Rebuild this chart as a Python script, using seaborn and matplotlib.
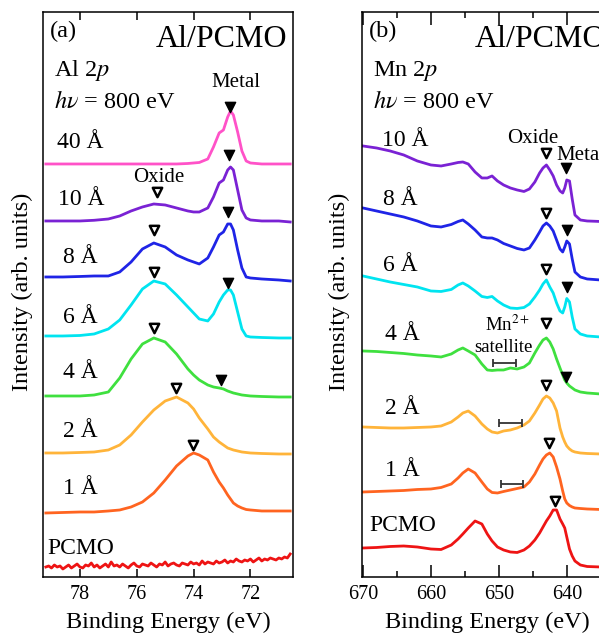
import numpy as np
import pandas as pd
import seaborn as sns
import matplotlib.pyplot as plt

# ---- panel (a): Al 2p, stacked spectra (intensity offsets already included)
al_energy = [79.2, 78.6, 78.0, 77.5, 77.0, 76.6, 76.2, 75.8, 75.4, 75.0, 74.6, 74.2,
             74.0, 73.8, 73.5, 73.3, 73.1, 72.95, 72.8, 72.7, 72.6, 72.45, 72.3,
             72.15, 72.0, 71.6, 71.0, 70.6]
al_40 = [413, 413, 413, 413, 413, 413, 413, 413, 413, 413, 413, 413.5, 414, 414.5,
         418, 430, 444, 447, 460, 466, 462, 445, 426, 416, 414, 413, 413, 413]
al_10 = [356, 356, 356, 356.7, 358, 361, 366, 370, 373, 372, 369, 366, 365, 365,
         369, 380, 394, 397, 407, 410, 407, 387, 367, 359, 357, 356, 356, 355]
al_8 = [300, 300, 300.5, 301, 301, 305, 315, 328, 334, 330, 322, 317, 315, 313,
        319, 330, 342, 345, 353, 353, 347, 327, 309, 300, 299, 298, 297, 296]
al_6 = [241, 241, 241.5, 243, 248, 257, 272, 288, 296, 293, 282, 270, 264, 258,
        256, 263, 275, 282, 287, 287, 282, 265, 248, 241, 240, 239.5, 239, 239]
al_4 = [181, 181, 181, 182, 185, 199, 218, 233, 239, 235, 223, 208, 202, 197,
        192, 190, 189, 188, 186, 185, 184, 183, 182, 181.5, 181, 180.5, 180, 180]
al_2 = [124, 124, 124.5, 125, 127, 132, 142, 155, 167, 176, 180, 174, 168, 159,
        148, 140, 135, 132, 129, 128, 127, 126, 125, 124.5, 124, 123.5, 123, 123]
al_1 = [64, 64.5, 65, 65, 66, 67, 70, 75, 84, 97, 111, 121, 124, 122,
        117, 105, 95, 89, 82, 78, 74, 71, 69, 67.5, 67, 66, 66, 66]
# bare PCMO has no Al signal: just the noisy background, read point by point
al_pcmo = [10, 11, 9, 12, 10, 11, 8, 10, 12, 9,
           11, 13, 10, 9, 12, 11, 14, 10, 12, 9,
           11, 13, 10, 15, 11, 12, 10, 13, 11, 9,
           12, 14, 11, 10, 13, 12, 11, 14, 12, 10,
           13, 12, 15, 11, 13, 14, 12, 11, 14, 13,
           12, 15, 13, 14, 12, 16, 13, 15, 14, 13,
           16, 14, 15, 17, 14, 16, 15, 18, 16, 15,
           17, 16, 18, 15, 17, 19, 16, 18, 17, 19,
           18, 17, 19, 18, 20, 19, 23]
al_pcmo_energy = np.linspace(79.2, 70.6, len(al_pcmo))

al_metal_e = [72.72, 72.75, 72.8, 72.8, 73.03]
al_metal_h = [470, 422, 365, 294, 197]
al_oxide_e = [75.3, 75.4, 75.4, 75.4, 74.62, 74.03]
al_oxide_h = [385, 347, 305, 249, 189, 132]

# ---- panel (b): Mn 2p
mn_energy = [670, 668, 666, 664, 662, 660, 658.5, 657, 656, 655.3, 654.5, 653.5,
             652.5, 651.7, 651, 650.2, 649.3, 648.3, 647.3, 646.3, 645.5, 644.7,
             644, 643.5, 643, 642.5, 642, 641.5, 641, 640.6, 640.3, 640, 639.6,
             639.2, 638.8, 638, 637, 635, 632, 629.5]
mn_10 = [431, 429, 426, 422, 416, 412, 411, 413, 414.5, 415, 413, 405, 399, 399,
         401, 396, 392, 389, 387, 385.5, 388, 395, 404, 409, 412, 407, 401, 392,
         386, 384, 389, 397, 396, 378, 362, 357, 356, 355.5, 355.5, 355.5]
mn_8 = [369, 366, 363, 360, 356, 351, 350, 352.5, 355.5, 357, 353, 347, 340, 339,
        339, 337, 333.5, 331, 328.5, 327, 329, 337, 345, 351, 354, 351, 346, 337,
        328, 325, 330, 336, 333, 318, 305, 300, 298, 297, 297, 297]
mn_6 = [301, 298, 295, 292.5, 290, 286, 285.5, 287.5, 292, 294, 291, 286, 280.5,
        279.5, 280.5, 276, 272, 269, 268.5, 269.5, 273, 280, 287, 293, 297, 290,
        284, 274, 266, 264, 270, 278.5, 275, 260, 248, 243, 241, 240, 240, 240]
mn_4 = [226, 225.5, 224.5, 223.5, 222, 221, 220, 223, 227, 229, 226, 222, 213, 207,
        206.5, 207, 207, 209, 208, 210, 214, 224, 232, 237, 239, 235, 228, 218,
        209, 202, 197, 194, 191, 189, 187, 185, 184, 183, 182, 182]
mn_2 = [150, 149.5, 149, 149, 149.5, 150, 151, 155, 160, 164, 166, 161, 153, 148,
        145, 144, 146, 147, 149, 152, 156, 164, 172, 178, 181, 179, 174, 166,
        149, 140, 135, 131, 128, 126, 125, 124, 123.5, 123, 123, 123]
mn_1 = [85, 85.5, 86, 86.5, 87.5, 88, 89.5, 93, 99, 104, 108, 104, 95, 88,
        84.5, 84, 85.5, 87, 88.5, 90, 95, 103, 112, 118, 122, 124, 120, 110,
        98, 86, 78, 74, 71.5, 70, 69, 68.5, 68, 67.5, 67, 67]
mn_pcmo = [29, 29.5, 30.5, 31, 30, 28, 27.5, 32, 38, 43, 49, 56, 53, 43,
           36, 30, 27, 25, 24.5, 27, 31, 37, 44, 50, 56, 61, 67, 67,
           58, 53, 49, 40, 28, 21, 16, 12, 10.5, 10, 9.5, 9.5]

mn_oxide_e = [643.1, 643.1, 643.1, 643.1, 643.0, 642.6, 641.8]
mn_oxide_h = [424, 364, 308, 254, 192, 134, 76]
mn_metal_e = [640.05, 640.0, 640.0, 640.05]
mn_metal_h = [409, 347, 290, 200]
# Mn2+ satellite ranges (start, end) and their heights
sat_start = [650.9, 650.0, 649.75]
sat_end = [647.5, 646.6, 646.5]
sat_h = [214, 154, 93]

samples_al = ["40 Å", "10 Å", "8 Å", "6 Å", "4 Å", "2 Å", "1 Å", "PCMO"]
samples_mn = ["10 Å", "8 Å", "6 Å", "4 Å", "2 Å", "1 Å", "PCMO"]
palette = {"40 Å": "#ff52c8", "10 Å": "#7a22d4", "8 Å": "#1f24e6", "6 Å": "#00e4f0",
           "4 Å": "#3fe03f", "2 Å": "#ffb43a", "1 Å": "#ff6420", "PCMO": "#ee1414"}

plt.rcParams["font.family"] = ["Liberation Serif", "DejaVu Serif"]
plt.rcParams["mathtext.fontset"] = "stix"

al_curves = [al_40, al_10, al_8, al_6, al_4, al_2, al_1]
frames = [pd.DataFrame({"energy": al_energy, "intensity": c, "sample": s})
          for s, c in zip(samples_al[:-1], al_curves)]
frames.append(pd.DataFrame({"energy": al_pcmo_energy, "intensity": al_pcmo, "sample": "PCMO"}))
df_al = pd.concat(frames, ignore_index=True)

mn_curves = [mn_10, mn_8, mn_6, mn_4, mn_2, mn_1, mn_pcmo]
df_mn = pd.concat([pd.DataFrame({"energy": mn_energy, "intensity": c, "sample": s})
                   for s, c in zip(samples_mn, mn_curves)], ignore_index=True)

fig = plt.figure(figsize=(5.99, 6.37), dpi=100)
ax_a = fig.add_axes([0.0713, 0.0942, 0.4184, 0.887])
ax_b = fig.add_axes([0.6038, 0.0942, 0.4184, 0.887])

sns.lineplot(data=df_al, x="energy", y="intensity", hue="sample", palette=palette,
             estimator=None, sort=False, lw=2, legend=False, ax=ax_a)
sns.lineplot(data=df_mn, x="energy", y="intensity", hue="sample", palette=palette,
             estimator=None, sort=False, lw=2, legend=False, ax=ax_b)

# peak markers
ax_a.scatter(al_metal_e, al_metal_h, marker="v", s=55, color="black", zorder=5)
ax_a.scatter(al_oxide_e, al_oxide_h, marker="v", s=45, facecolor="white",
             edgecolor="black", linewidth=1.8, zorder=5)
ax_b.scatter(mn_metal_e, mn_metal_h, marker="v", s=55, color="black", zorder=5)
ax_b.scatter(mn_oxide_e, mn_oxide_h, marker="v", s=45, facecolor="white",
             edgecolor="black", linewidth=1.8, zorder=5)

sat_c = [(a + b) / 2 for a, b in zip(sat_start, sat_end)]
sat_w = [(a - b) / 2 for a, b in zip(sat_start, sat_end)]
ax_b.errorbar(sat_c, sat_h, xerr=sat_w, fmt="none", ecolor="#333333",
              elinewidth=1.3, capsize=3, capthick=1.3)

# curve labels
al_lab_x = [78.81, 78.77, 78.6, 78.6, 78.6, 78.6, 78.6, 79.16]
al_lab_y = [434, 377, 319, 259, 204, 145, 88, 28.5]
for s, x, y in zip(samples_al, al_lab_x, al_lab_y):
    ax_a.text(x, y, s, fontsize=17, ha="left", va="center")
mn_lab_x = [667.2, 667.05, 667.05, 666.8, 666.8, 666.8, 669.0]
mn_lab_y = [436, 377, 311, 242, 168, 106, 51]
for s, x, y in zip(samples_mn, mn_lab_x, mn_lab_y):
    ax_b.text(x, y, s, fontsize=17, ha="left", va="center")

ax_a.text(75.22, 399, "Oxide", fontsize=15, ha="center", va="center")
ax_a.text(72.51, 494, "Metal", fontsize=15, ha="center", va="center")
ax_b.text(645.0, 438, "Oxide", fontsize=15, ha="center", va="center")
ax_b.text(641.47, 421, "Metal", fontsize=15, ha="left", va="center")
ax_b.text(648.7, 252, "Mn$^{2+}$", fontsize=13.5, ha="center", va="center")
ax_b.text(649.3, 229, "satellite", fontsize=13.5, ha="center", va="center")

for ax, tag, core in [(ax_a, "(a)", "Al 2$p$"), (ax_b, "(b)", "Mn 2$p$")]:
    ax.text(0.028, 0.965, tag, transform=ax.transAxes, fontsize=17.5, va="center")
    ax.text(0.975, 0.952, "Al/PCMO", transform=ax.transAxes, fontsize=23,
            ha="right", va="center")
    ax.text(0.045, 0.896, core, transform=ax.transAxes, fontsize=17.5, va="center")
    ax.text(0.045, 0.841, r"$h\nu$ = 800 eV", transform=ax.transAxes,
            fontsize=17.5, va="center")

ax_a.set_xlim(79.31, 70.49)
ax_b.set_xlim(670.19, 633.3)
ax_a.set_xticks([78, 76, 74, 72])
ax_b.set_xticks([670, 660, 650, 640])
ax_b.set_xticks([665, 655, 645, 635], minor=True)
for ax in (ax_a, ax_b):
    ax.set_ylim(0, 565)
    ax.set_yticks([])
    for sp in ax.spines.values():
        sp.set_linewidth(1.1)
    ax.tick_params(axis="x", which="both", direction="in", top=True, labelsize=14.5,
                   width=1.1, pad=6)
    ax.set_xlabel("Binding Energy (eV)", fontsize=17.5)
    ax.set_ylabel("Intensity (arb. units)", fontsize=17.5)
    ax.xaxis.set_label_coords(0.5, -0.062)
    ax.xaxis.label.set_va("top")
ax_a.tick_params(axis="x", which="major", length=6)
ax_b.tick_params(axis="x", which="major", length=9)
ax_b.tick_params(axis="x", which="minor", length=4)
ax_a.yaxis.set_label_coords(-0.039, 0.505)
ax_b.yaxis.set_label_coords(-0.047, 0.505)

plt.savefig("out.png", dpi=100)
